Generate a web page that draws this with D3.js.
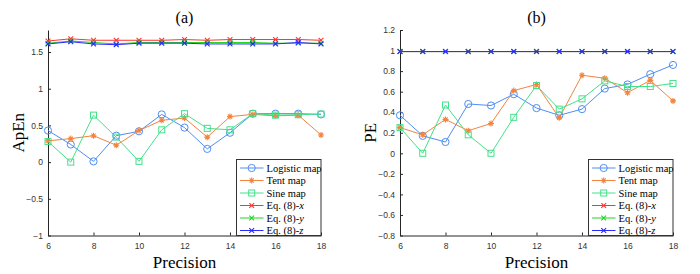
<!DOCTYPE html>
<html>
<head>
<meta charset="utf-8">
<script src="https://cdn.jsdelivr.net/npm/d3@7"></script>
<style>
  body { margin: 0; background: #fff; }
  svg { display: block; }
  .tick text { font-family: "Liberation Sans", Arial, sans-serif; font-size: 8.5px; fill: #333; }
  .serif { font-family: "Liberation Serif", "Times New Roman", serif; fill: #000; }
</style>
</head>
<body>
<svg id="chart" width="700" height="274"></svg>
<script>
const precision = [6, 7, 8, 9, 10, 11, 12, 13, 14, 15, 16, 17, 18];

// (a) ApEn
const apenLogistic = [0.43, 0.24, 0.01, 0.36, 0.42, 0.65, 0.47, 0.18, 0.40, 0.66, 0.66, 0.66, 0.65];
const apenTent     = [0.29, 0.32, 0.36, 0.23, 0.43, 0.57, 0.60, 0.34, 0.62, 0.65, 0.63, 0.64, 0.37];
const apenSine     = [0.28, 0.00, 0.64, 0.34, 0.01, 0.44, 0.66, 0.46, 0.44, 0.66, 0.64, 0.645, 0.655];
const apenEqX      = [1.65, 1.68, 1.66, 1.66, 1.66, 1.66, 1.67, 1.66, 1.67, 1.67, 1.67, 1.67, 1.66];
const apenEqY      = [1.62, 1.65, 1.63, 1.61, 1.63, 1.63, 1.63, 1.63, 1.63, 1.63, 1.62, 1.62, 1.62];
const apenEqZ      = [1.61, 1.64, 1.61, 1.60, 1.62, 1.62, 1.62, 1.61, 1.61, 1.61, 1.61, 1.63, 1.61];

// (b) PE
const peLogistic = [0.37, 0.17, 0.11, 0.48, 0.465, 0.575, 0.44, 0.37, 0.43, 0.63, 0.67, 0.77, 0.86];
const peTent     = [0.25, 0.18, 0.33, 0.22, 0.29, 0.61, 0.67, 0.345, 0.76, 0.73, 0.59, 0.71, 0.51];
const peSine     = [0.25, 0.00, 0.47, 0.18, 0.00, 0.35, 0.66, 0.43, 0.53, 0.705, 0.65, 0.65, 0.68];
const peEqX      = [0.99, 0.99, 0.99, 0.99, 0.99, 0.99, 0.99, 0.99, 0.99, 0.99, 0.99, 0.99, 0.99];
const peEqY      = [0.99, 0.99, 0.99, 0.99, 0.99, 0.99, 0.99, 0.99, 0.99, 0.99, 0.99, 0.99, 0.99];
const peEqZ      = [0.99, 0.99, 0.99, 0.99, 0.99, 0.99, 0.99, 0.99, 0.99, 0.99, 0.99, 0.99, 0.99];

const xTicks = [6, 8, 10, 12, 14, 16, 18];
const apenTicks = [-1, -0.5, 0, 0.5, 1, 1.5];
const peTicks = [-0.8, -0.6, -0.4, -0.2, 0, 0.2, 0.4, 0.6, 0.8, 1, 1.2];

const seriesStyle = [
  { name: "Logistic map", color: "#4f8ef2", marker: "circle" },
  { name: "Tent map", color: "#f2843f", marker: "star" },
  { name: "Sine map", color: "#45e08a", marker: "square" },
  { name: "Eq. (8)-", it: "x", color: "#ff3333", marker: "cross" },
  { name: "Eq. (8)-", it: "y", color: "#22d422", marker: "cross" },
  { name: "Eq. (8)-", it: "z", color: "#2a2aff", marker: "cross" }
];

const svg = d3.select("#chart");

function drawMarker(g, type, x, y, color) {
  if (type === "circle") {
    g.append("circle").attr("cx", x).attr("cy", y).attr("r", 3.6)
      .attr("fill", "none").attr("stroke", color).attr("stroke-width", 1);
  } else if (type === "square") {
    g.append("rect").attr("x", x - 3).attr("y", y - 3).attr("width", 6).attr("height", 6)
      .attr("fill", "none").attr("stroke", color).attr("stroke-width", 1);
  } else if (type === "star") {
    const s = 3;
    g.append("path")
      .attr("d", `M${x - s},${y}H${x + s}M${x},${y - s}V${y + s}M${x - s * 0.7},${y - s * 0.7}L${x + s * 0.7},${y + s * 0.7}M${x - s * 0.7},${y + s * 0.7}L${x + s * 0.7},${y - s * 0.7}`)
      .attr("stroke", color).attr("stroke-width", 1.1);
  } else {
    const s = 2.4;
    g.append("path")
      .attr("d", `M${x - s},${y - s}L${x + s},${y + s}M${x - s},${y + s}L${x + s},${y - s}`)
      .attr("stroke", color).attr("stroke-width", 1.1);
  }
}

function panel(opts) {
  const x = d3.scaleLinear().domain([6, 18]).range([opts.left, opts.right]);
  const y = d3.scaleLinear().domain(opts.yDomain).range([opts.bottom, opts.top]);
  const g = svg.append("g");

  g.append("g")
    .attr("transform", `translate(0,${opts.bottom})`)
    .call(d3.axisBottom(x).tickValues(xTicks).tickSizeInner(-3).tickSizeOuter(0).tickPadding(7))
    .call(a => a.select(".domain").attr("stroke", "#262626"))
    .call(a => a.selectAll(".tick line").attr("stroke", "#262626"));

  g.append("g")
    .attr("transform", `translate(${opts.left},0)`)
    .call(d3.axisLeft(y).tickValues(opts.yTicks).tickSizeInner(-3).tickSizeOuter(0).tickPadding(5)
      .tickFormat(d3.format("")))
    .call(a => a.select(".domain").attr("stroke", "#262626"))
    .call(a => a.selectAll(".tick line").attr("stroke", "#262626"));

  const line = d3.line().x((d, i) => x(precision[i])).y(d => y(d));
  opts.series.forEach((vals, k) => {
    const st = seriesStyle[k];
    const sg = g.append("g");
    sg.append("path").attr("d", line(vals)).attr("fill", "none")
      .attr("stroke", st.color).attr("stroke-width", 1);
    vals.forEach((v, i) => drawMarker(sg, st.marker, x(precision[i]), y(v), st.color));
  });

  // title and labels
  const cx = (opts.left + opts.right) / 2;
  g.append("text").attr("class", "serif").attr("x", cx).attr("y", 23)
    .attr("text-anchor", "middle").attr("font-size", 16).text(opts.title);
  g.append("text").attr("class", "serif").attr("x", cx).attr("y", 268)
    .attr("text-anchor", "middle").attr("font-size", 17).text("Precision");
  g.append("text").attr("class", "serif")
    .attr("transform", `translate(${opts.left - 24},${(opts.top + opts.bottom) / 2}) rotate(-90)`)
    .attr("text-anchor", "middle").attr("font-size", 17).text(opts.ylabel);

  // legend
  const lx = opts.legendX, lw = opts.right - opts.legendX;
  const ly = 159.5, lh = opts.bottom - ly;
  const lg = g.append("g");
  lg.append("rect").attr("x", lx).attr("y", ly).attr("width", lw).attr("height", lh)
    .attr("fill", "#fff").attr("stroke", "#333").attr("stroke-width", 1);
  seriesStyle.forEach((st, k) => {
    const ry = 168 + k * 12.5;
    lg.append("line").attr("x1", lx + 3.5).attr("x2", lx + 27).attr("y1", ry).attr("y2", ry)
      .attr("stroke", st.color).attr("stroke-width", 1);
    drawMarker(lg, st.marker, lx + 15.2, ry, st.color);
    const t = lg.append("text").attr("class", "serif").attr("x", lx + 30).attr("y", ry + 3.6)
      .attr("font-size", 10.5).text(st.name);
    if (st.it) t.append("tspan").attr("font-style", "italic").text(st.it);
  });
}

panel({
  left: 48, right: 321, top: 30, bottom: 235.5,
  yDomain: [-1, 1.8], yTicks: apenTicks, title: "(a)", ylabel: "ApEn",
  legendX: 236.5,
  series: [apenLogistic, apenTent, apenSine, apenEqX, apenEqY, apenEqZ]
});

panel({
  left: 400, right: 673, top: 30, bottom: 235.5,
  yDomain: [-0.8, 1.2], yTicks: peTicks, title: "(b)", ylabel: "PE",
  legendX: 588.5,
  series: [peLogistic, peTent, peSine, peEqX, peEqY, peEqZ]
});
</script>
</body>
</html>
